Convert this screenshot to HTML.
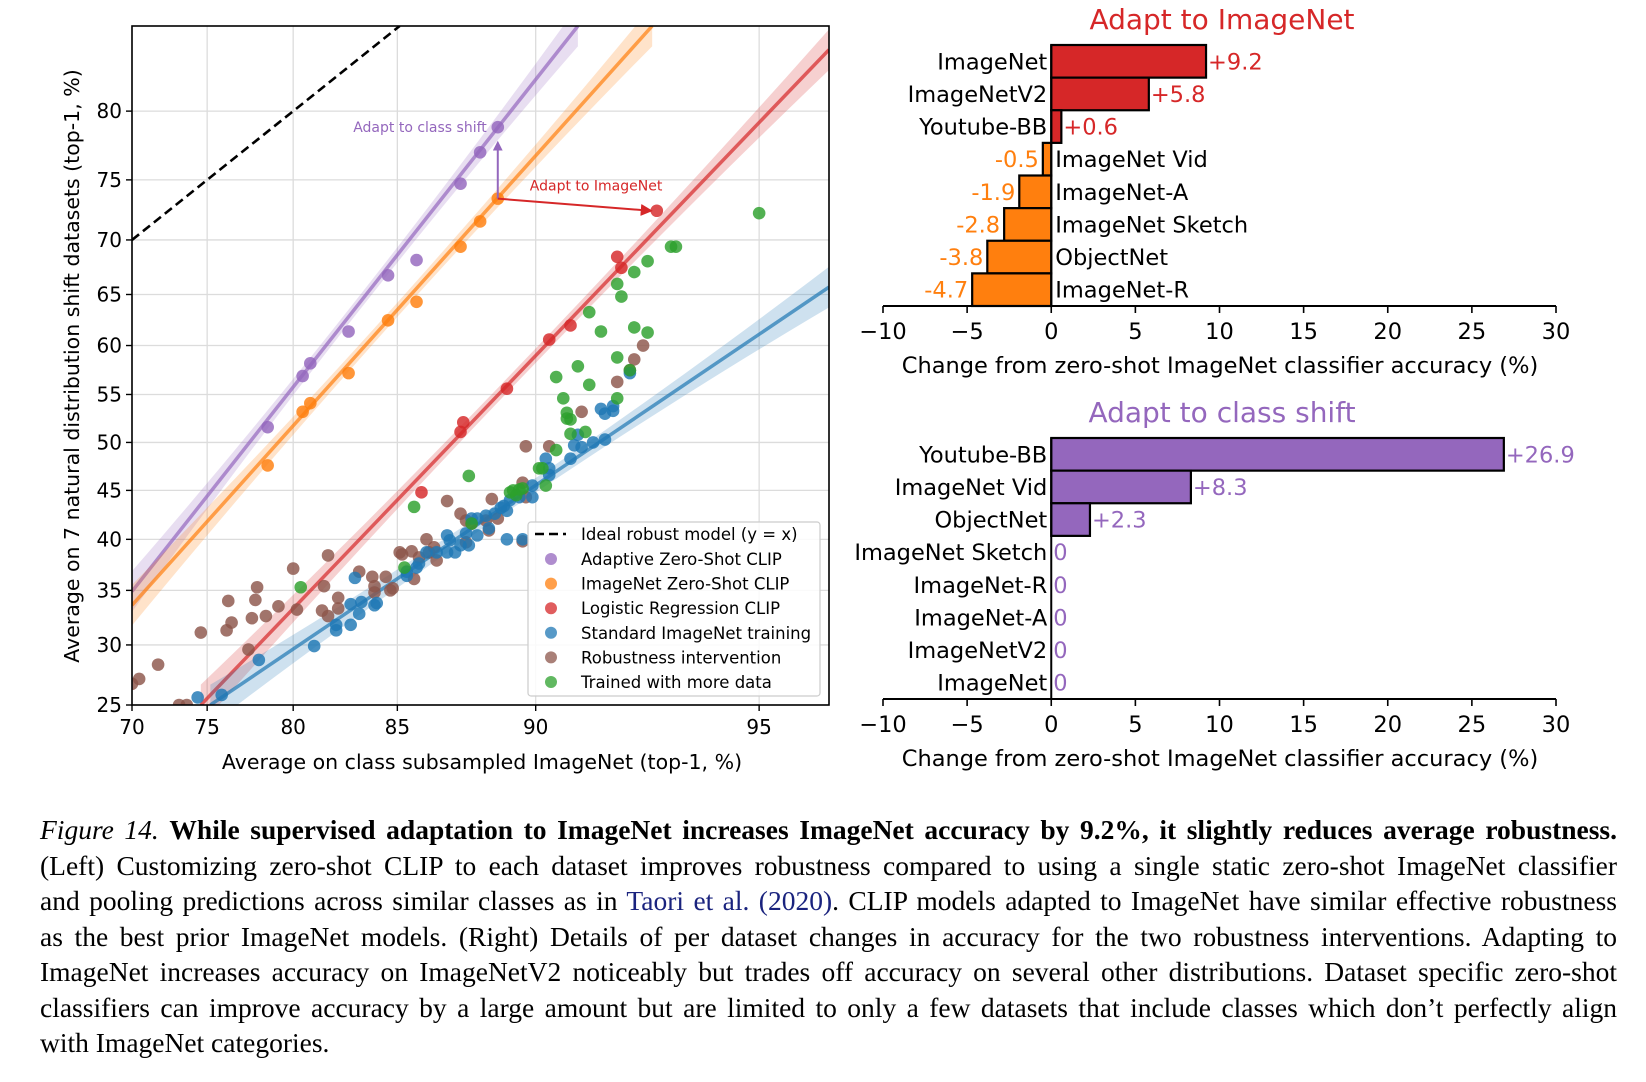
<!DOCTYPE html>
<html><head><meta charset="utf-8">
<style>
body{margin:0;background:#fff;width:1646px;height:1082px;overflow:hidden;position:relative;font-family:"Liberation Sans","DejaVu Sans",sans-serif}
svg{position:absolute;left:0;top:0}
svg text{font-family:"DejaVu Sans","Liberation Sans",sans-serif}
#caption{position:absolute;left:40px;top:812px;width:1577px;font-family:"Liberation Serif",serif;font-size:27.5px;line-height:35.5px;color:#000}
#caption .ln{white-space:nowrap;text-align:justify;text-align-last:justify;height:35.5px}
#caption .last{text-align-last:left}
</style></head><body>
<svg id="chart" width="1646" height="1082" xmlns="http://www.w3.org/2000/svg"></svg>
<div id="caption">
<div class="ln"><i>Figure 14.</i> <b>While supervised adaptation to ImageNet increases ImageNet accuracy by 9.2%, it slightly reduces average robustness.</b></div>
<div class="ln">(Left) Customizing zero-shot CLIP to each dataset improves robustness compared to using a single static zero-shot ImageNet classifier</div>
<div class="ln">and pooling predictions across similar classes as in <span style="color:#1a237e">Taori et al. (2020)</span>. CLIP models adapted to ImageNet have similar effective robustness</div>
<div class="ln">as the best prior ImageNet models. (Right) Details of per dataset changes in accuracy for the two robustness interventions. Adapting to</div>
<div class="ln">ImageNet increases accuracy on ImageNetV2 noticeably but trades off accuracy on several other distributions. Dataset specific zero-shot</div>
<div class="ln">classifiers can improve accuracy by a large amount but are limited to only a few datasets that include classes which don’t perfectly align</div>
<div class="ln last">with ImageNet categories.</div>
</div>
<script>
// ---------- scatter data (x = subsampled ImageNet %, y = avg shift %) ----------
const purpleX=[78.6,80.5,80.9,82.8,84.6,85.8,87.5,88.2,88.8];
const purpleY=[51.6,56.9,58.2,61.4,66.8,68.2,74.7,77.1,78.9];
const orangeX=[78.6,80.5,80.9,82.8,84.6,85.8,87.5,88.2,88.8];
const orangeY=[47.6,53.2,54.1,57.2,62.5,64.3,69.4,71.6,73.5];
const redX=[93.1,92.2,92.3,91.0,90.4,89.1,87.6,87.5,86.0];
const redY=[72.5,68.5,67.5,62.0,60.6,55.6,52.1,51.1,44.8];
const blueX=[74.4,75.9,78.1,81.1,82.2,82.2,82.9,83.3,82.9,83.4,83.1,84.0,84.1,85.4,85.4,85.8,85.9,86.2,86.6,87.0,87.1,87.0,87.3,87.5,87.8,88.1,87.7,87.9,88.1,88.4,88.5,88.7,88.9,89.1,89.0,89.2,89.5,89.9,89.9,89.1,89.6,90.3,90.4,90.4,91.0,91.1,91.3,91.2,91.6,91.9,91.8,91.9,92.1,92.1,92.5];
const blueY=[25.6,25.8,28.7,29.9,31.8,31.3,31.8,32.8,33.7,33.9,36.2,33.6,33.8,36.4,36.8,37.2,37.6,38.7,38.7,40.4,39.9,38.7,38.7,39.4,39.4,40.4,40.6,42.1,42.1,42.4,41.1,42.6,43.2,42.9,43.4,44.0,44.3,44.3,45.5,40.0,40.0,48.3,47.3,46.6,48.3,49.7,49.5,50.8,50.0,50.3,53.5,53.0,53.3,53.8,57.2];
const brownX=[70.0,70.5,71.8,73.2,73.7,74.6,76.2,76.5,76.3,77.5,77.7,77.9,78.0,78.5,79.2,80.0,80.2,81.5,81.6,81.8,81.8,82.3,82.3,83.3,83.9,84.0,84.0,84.5,84.7,84.8,85.1,85.2,85.6,85.7,85.9,86.3,86.5,86.6,86.2,87.0,87.5,87.7,87.7,87.9,88.4,88.5,88.6,88.8,89.6,89.7,89.7,89.6,90.4,91.3,92.2,92.5,92.6,92.8];
const brownY=[26.7,27.1,28.3,25.0,25.0,31.1,31.3,32.0,34.0,29.6,32.4,34.1,35.3,32.6,33.5,37.1,33.2,33.1,35.4,38.4,32.6,33.3,34.3,36.8,36.3,35.4,34.8,36.3,35.0,35.2,38.7,38.5,38.8,36.1,38.2,38.7,39.2,37.9,40.0,43.9,42.6,41.9,39.7,41.6,41.9,40.9,44.1,42.1,45.8,44.3,49.6,39.8,49.6,53.2,56.3,57.5,58.6,60.0];
const greenX=[95.0,93.4,93.5,92.9,92.6,92.2,92.3,91.5,91.8,92.6,92.9,92.2,91.2,90.6,91.5,92.5,92.2,90.8,90.9,91.0,90.9,91.0,91.4,90.6,90.1,90.2,90.3,87.8,89.2,89.3,89.5,89.4,89.6,85.7,87.9,85.3,80.4];
const greenY=[72.3,69.4,69.4,68.1,67.1,66.0,64.8,63.3,61.4,61.8,61.3,58.8,57.9,56.8,56.0,57.5,54.6,54.6,53.1,52.4,52.5,50.9,51.1,49.2,47.3,47.3,45.5,46.5,44.8,45.0,45.1,44.5,45.2,43.3,41.6,37.2,35.3];
// fitted trend lines: endpoints [x0,y0,x1,y1] in %
const fitPurple=[70,34.9,91.2,85.1];
const fitOrange=[70,33.6,93.0,85.1];
const fitRed=[74.6,25,96,83.8];
const fitBlue=[75.2,25,96,65.7];
const xTicks=[70,75,80,85,90,95];
const yTicks=[25,30,35,40,45,50,55,60,65,70,75,80];
// ---------- bar data ----------
const imnCats=["ImageNet","ImageNetV2","Youtube-BB","ImageNet Vid","ImageNet-A","ImageNet Sketch","ObjectNet","ImageNet-R"];
const imnVals=[9.2,5.8,0.6,-0.5,-1.9,-2.8,-3.8,-4.7];
const clsCats=["Youtube-BB","ImageNet Vid","ObjectNet","ImageNet Sketch","ImageNet-R","ImageNet-A","ImageNetV2","ImageNet"];
const clsVals=[26.9,8.3,2.3,0,0,0,0,0];
const barTicks=[-10,-5,0,5,10,15,20,25,30];

const svg=document.getElementById('chart');
const NS='http://www.w3.org/2000/svg';
function el(tag,attrs,parent){const e=document.createElementNS(NS,tag);for(const k in attrs)e.setAttribute(k,attrs[k]);(parent||svg).appendChild(e);return e;}
function txt(s,attrs,parent){const e=el('text',attrs,parent);e.textContent=s;return e;}

// ---------- scatter axes (logit scale) ----------
const L=132,R=829,T=26,B=705;
const logit=p=>Math.log(p/(100-p));
const lx0=logit(70),lx1=logit(96),ly0=logit(25),ly1=logit(85.1);
const sx=v=>L+(logit(v)-lx0)/(lx1-lx0)*(R-L);
const sy=v=>B-(logit(v)-ly0)/(ly1-ly0)*(B-T);
const inv=l=>100/(1+Math.exp(-l));

const defs=el('defs',{});
const cp=el('clipPath',{id:'plotclip'},defs);
el('rect',{x:L,y:T,width:R-L,height:B-T},cp);
const ah=el('marker',{id:'arrP',markerWidth:10,markerHeight:10,refX:8,refY:5,orient:'auto',markerUnits:'userSpaceOnUse'},defs);
el('path',{d:'M0,0 L10,5 L0,10 z',fill:'#9467bd'},ah);
const ah2=el('marker',{id:'arrR',markerWidth:12,markerHeight:12,refX:10,refY:6,orient:'auto',markerUnits:'userSpaceOnUse'},defs);
el('path',{d:'M0,0 L12,6 L0,12 z',fill:'#d62728'},ah2);

const grid=el('g',{});


xTicks.forEach(v=>{el('line',{x1:sx(v),x2:sx(v),y1:T,y2:B,stroke:'#dcdcdc','stroke-width':1.3},grid);});
yTicks.forEach(v=>{el('line',{x1:L,x2:R,y1:sy(v),y2:sy(v),stroke:'#dcdcdc','stroke-width':1.3},grid);});

const plot=el('g',{'clip-path':'url(#plotclip)'});


const ideal=el('line',{x1:sx(70),y1:sy(70),x2:sx(85.1),y2:sy(85.1),stroke:'#000','stroke-width':2.6,'stroke-dasharray':'9,5'},plot);



function fit(f,color,name){
  const g=el('g',{},plot);
  
  
  const a0=logit(f[0]),b0=logit(f[1]),a1=logit(f[2]),b1=logit(f[3]);
  const n=30,up=[],dn=[],mid=(a0+a1)/2,half=(a1-a0)/2;
  for(let i=0;i<=n;i++){
    const a=a0+(a1-a0)*i/n,b=b0+(b1-b0)*i/n;
    const w=0.03+0.055*Math.pow((a-mid)/half,2);
    up.push([a,b+w]);dn.push([a,b-w]);
  }
  const pts=up.concat(dn.reverse()).map(p=>sx(inv(p[0]))+','+sy(inv(p[1]))).join(' ');
  el('polygon',{points:pts,fill:color,'fill-opacity':0.22},g);
  el('line',{x1:sx(f[0]),y1:sy(f[1]),x2:sx(f[2]),y2:sy(f[3]),stroke:color,'stroke-width':3.5,'stroke-opacity':0.7},g);
}
fit(fitPurple,'#9467bd','fit-line-adaptive-zero-shot');
fit(fitOrange,'#ff7f0e','fit-line-imagenet-zero-shot');
fit(fitRed,'#d62728','fit-line-logistic-regression');
fit(fitBlue,'#1f77b4','fit-line-standard-training');

function pts(xs,ys,color,name){
  const g=el('g',{},plot);
  
  
  xs.forEach((x,i)=>{
    const c=el('circle',{cx:sx(x),cy:sy(ys[i]),r:6.3,fill:color,'fill-opacity':0.82},g);
    
    
  });
}
pts(brownX,brownY,'#8c564b','robustness-intervention-points');
pts(blueX,blueY,'#1f77b4','standard-imagenet-points');
pts(greenX,greenY,'#2ca02c','more-data-points');
pts(redX,redY,'#d62728','logistic-regression-points');
pts(orangeX,orangeY,'#ff7f0e','imagenet-zero-shot-points');
pts(purpleX,purpleY,'#9467bd','adaptive-zero-shot-points');

const ann=el('g',{});


const ox=orangeX[8],oy=orangeY[8];
el('line',{x1:sx(ox),y1:sy(oy),x2:sx(ox),y2:sy(77.8),stroke:'#9467bd','stroke-width':2,'marker-end':'url(#arrP)'},ann);
txt('Adapt to class shift',{x:sx(ox)-11,y:sy(purpleY[8])+5,'font-size':14,fill:'#9467bd','text-anchor':'end'},ann);
el('line',{x1:sx(ox),y1:sy(oy),x2:sx(redX[0])-6,y2:sy(redY[0]),stroke:'#d62728','stroke-width':2,'marker-end':'url(#arrR)'},ann);
txt('Adapt to ImageNet',{x:sx(ox)+32,y:sy(oy)-8,'font-size':14,fill:'#d62728'},ann);

el('rect',{x:L,y:T,width:R-L,height:B-T,fill:'none',stroke:'#000','stroke-width':1.6});
const xt=el('g',{});


xTicks.forEach(v=>{el('line',{x1:sx(v),x2:sx(v),y1:B,y2:B+6,stroke:'#000','stroke-width':1.4},xt);txt(String(v),{x:sx(v),y:B+29,'font-size':20,'text-anchor':'middle'},xt);});
const yt=el('g',{});


yTicks.forEach(v=>{el('line',{x1:L-6,x2:L,y1:sy(v),y2:sy(v),stroke:'#000','stroke-width':1.4},yt);txt(String(v),{x:L-10,y:sy(v)+7,'font-size':20,'text-anchor':'end'},yt);});
const xl=txt('Average on class subsampled ImageNet (top-1, %)',{x:482,y:769,'font-size':20.5,'text-anchor':'middle'});


const yl=txt('Average on 7 natural distribution shift datasets (top-1, %)',{x:0,y:0,'font-size':20.5,'text-anchor':'middle',transform:'translate(79,366) rotate(-90)'});



const lg=el('g',{});


el('rect',{x:528,y:522,width:292,height:174,rx:3,fill:'#fff','fill-opacity':0.85,stroke:'#ccc','stroke-width':1.2},lg);
el('line',{x1:535,x2:566,y1:534,y2:534,stroke:'#000','stroke-width':2.6,'stroke-dasharray':'9,5'},lg);
txt('Ideal robust model (y = x)',{x:581,y:540,'font-size':16.5},lg);
const legItems=[['Adaptive Zero-Shot CLIP','#9467bd'],['ImageNet Zero-Shot CLIP','#ff7f0e'],['Logistic Regression CLIP','#d62728'],['Standard ImageNet training','#1f77b4'],['Robustness intervention','#8c564b'],['Trained with more data','#2ca02c']];
legItems.forEach((it,i)=>{
  const y=559+i*24.6;
  const e=el('g',{},lg);
  
  
  el('circle',{cx:551,cy:y,r:6,fill:it[1],'fill-opacity':0.75},e);
  txt(it[0],{x:581,y:y+6,'font-size':16.5},e);
});

// ---------- bar charts ----------
const BL=883,BR=1556;
const bx=v=>BL+(v-(-10))/40*(BR-BL);
function barChart(cats,vals,top,bottom,title,titleY,posColor,negColor,name){
  const g=el('g',{});
  
  
  const t=txt(title,{x:1222,y:titleY,'font-size':28,fill:posColor,'text-anchor':'middle'},g);
  
  
  const band=(bottom-top)/cats.length;
  cats.forEach((c,i)=>{
    const v=vals[i],y0=top+i*band,yc=y0+band/2+8;
    const color=v<0?negColor:posColor;
    const x0=Math.min(bx(0),bx(v)),w=Math.abs(bx(v)-bx(0));
    const r=el('rect',{x:x0,y:y0,width:Math.max(w,0),height:band,fill:color,stroke:'#000','stroke-width':2.2},g);
    
    
    const lab=v<0?String(v):(v===0?'0':'+'+v);
    if(v<0){
      txt(c,{x:bx(0)+4,y:yc,'font-size':22.5},g);
      txt(lab,{x:bx(v)-4,y:yc,'font-size':22.5,fill:color,'text-anchor':'end'},g);
    }else{
      txt(c,{x:bx(0)-4,y:yc,'font-size':22.5,'text-anchor':'end'},g);
      txt(lab,{x:bx(v)+2,y:yc,'font-size':22.5,fill:color},g);
    }
  });
  el('line',{x1:bx(0),x2:bx(0),y1:top,y2:bottom,stroke:'#000','stroke-width':2},g);
  el('line',{x1:BL,x2:BR,y1:bottom,y2:bottom,stroke:'#000','stroke-width':2},g);
  const tk=el('g',{},g);
  
  
  barTicks.forEach(v=>{
    el('line',{x1:bx(v),x2:bx(v),y1:bottom,y2:bottom+7,stroke:'#000','stroke-width':1.6},tk);
    txt(v<0?'\u2212'+Math.abs(v):String(v),{x:bx(v),y:bottom+33,'font-size':22.5,'text-anchor':'middle'},tk);
  });
  const xlab=txt('Change from zero-shot ImageNet classifier accuracy (%)',{x:1220,y:bottom+67,'font-size':22.5,'text-anchor':'middle'},g);
  
  
}
barChart(imnCats,imnVals,45,306,'Adapt to ImageNet',29,'#d62728','#ff7f0e','adapt-imagenet-bar-chart');
barChart(clsCats,clsVals,438,699,'Adapt to class shift',422,'#9467bd','#9467bd','adapt-class-shift-bar-chart');
</script>
</body></html>
